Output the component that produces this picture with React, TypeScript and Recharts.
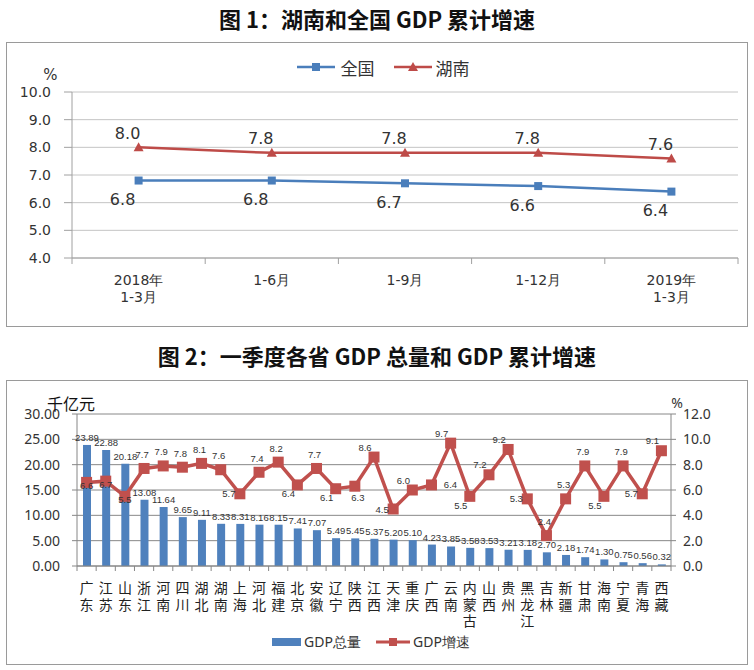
import { LineChart, Line, ComposedChart, Bar, XAxis, YAxis, CartesianGrid, Legend, LabelList } from 'recharts'

// 图1 data
const periods = ['2018年\n1-3月', '1-6月', '1-9月', '1-12月', '2019年\n1-3月']
const nationRate = [6.8, 6.8, 6.7, 6.6, 6.4]
const hunanRate = [8.0, 7.8, 7.8, 7.8, 7.6]
const rateTicks = [4, 5, 6, 7, 8, 9, 10]

// 图2 data
const provinces = ['广东', '江苏', '山东', '浙江', '河南', '四川', '湖北', '湖南', '上海', '河北', '福建', '北京', '安徽', '辽宁', '陕西', '江西', '天津', '重庆', '广西', '云南', '内蒙古', '山西', '贵州', '黑龙江', '吉林', '新疆', '甘肃', '海南', '宁夏', '青海', '西藏']
const gdpTotal = [23.89, 22.88, 20.18, 13.08, 11.64, 9.65, 9.11, 8.33, 8.31, 8.16, 8.15, 7.41, 7.07, 5.49, 5.45, 5.37, 5.2, 5.1, 4.23, 3.85, 3.58, 3.53, 3.21, 3.18, 2.7, 2.18, 1.74, 1.3, 0.75, 0.56, 0.32]
const gdpGrowth = [6.6, 6.7, 5.5, 7.7, 7.9, 7.8, 8.1, 7.6, 5.7, 7.4, 8.2, 6.4, 7.7, 6.1, 6.3, 8.6, 4.5, 6.0, 6.4, 9.7, 5.5, 7.2, 9.2, 5.3, 2.4, 5.3, 7.9, 5.5, 7.9, 5.7, 9.1]
const totalTicks = [0, 5, 10, 15, 20, 25, 30]
const growthTicks = [0, 2, 4, 6, 8, 10, 12]

// where each growth label sits around its marker (as in the original)
const growthLabelSide = ['c', 'c', 'c', 't', 't', 't', 't', 't', 'l', 't', 't', 'bl', 't', 'bl', 'b', 'tl', 'l', 'tl', 'r', 'tl', 'bl', 'tl', 'tl', 'l', 't', 't', 't', 'bl', 't', 'l', 'tl']
const sideOffset: Record<string, [number, number]> = {
  t: [-2, -14], tl: [-9, -10], l: [-11, 0], bl: [-9, 9], b: [3, 11], r: [19, 0], c: [0, 3],
}

const CJK = '"Noto Sans CJK SC", sans-serif'
const NATION = '#4A7EBB'
const HUNAN = '#BE4B48'
const BAR_BLUE = '#4F81BD'
const LINE_RED = '#C0504D'
const TEXT = '#333'

const CHART_W = 740
const CHART_H = 283
const TREND_BAND = (CHART_W - 65 - 9) / periods.length
const PROV_BAND = (CHART_W - 70 - 76) / provinces.length

const titleStyle = (top: number): React.CSSProperties => ({
  position: 'absolute', left: 0, top, width: 754, textAlign: 'center',
  fontFamily: CJK, fontWeight: 'bold', fontSize: 22, lineHeight: '30px', color: '#111',
})

const boxStyle = (top: number): React.CSSProperties => ({
  position: 'absolute', left: 6, top, width: 742, height: 285,
  border: '1px solid #9a9a9a', boxSizing: 'border-box', background: '#fff',
})

function TrendTick(props: any) {
  const { x, y, payload, index } = props
  const half = TREND_BAND / 2
  const lines = String(payload.value).split('\n')
  return (
    <g>
      <line x1={x - half} x2={x - half} y1={y} y2={y + 6} stroke="#a0a0a0" />
      {index === periods.length - 1 && <line x1={x + half} x2={x + half} y1={y} y2={y + 6} stroke="#a0a0a0" />}
      {lines.map((t, i) => (
        <text key={i} x={x} y={y + 22 + i * 17} textAnchor="middle" dominantBaseline="central"
          fontSize={14} fontFamily="DejaVu Sans, sans-serif" fill={TEXT}>{t}</text>
      ))}
    </g>
  )
}

function ProvinceTick(props: any) {
  const { x, y, payload, index } = props
  const half = PROV_BAND / 2
  const chars = Array.from(String(payload.value))
  return (
    <g>
      <line x1={x - half} x2={x - half} y1={y} y2={y + 5} stroke="#868686" />
      {index === provinces.length - 1 && <line x1={x + half} x2={x + half} y1={y} y2={y + 5} stroke="#868686" />}
      {chars.map((c, i) => (
        <text key={i} x={x} y={y + 21 + i * 16.5} textAnchor="middle" dominantBaseline="central"
          fontSize={14} fontFamily={CJK} fill="#222">{c}</text>
      ))}
    </g>
  )
}

const trendDot = (kind: 'square' | 'triangle', color: string, values: number[], dx: number, dy: number) => (p: any) => {
  const { cx, cy, index } = p
  return (
    <g key={`${kind}-${index}`}>
      {kind === 'square'
        ? <rect x={cx - 4} y={cy - 4} width={8} height={8} fill={color} />
        : <polygon points={`${cx},${cy - 5} ${cx + 5},${cy + 4} ${cx - 5},${cy + 4}`} fill={color} />}
      <text x={cx + dx} y={cy + dy} textAnchor="middle" dominantBaseline="central"
        fontSize={16} fontFamily="DejaVu Sans, sans-serif" fill={TEXT}>{values[index].toFixed(1)}</text>
    </g>
  )
}

const growthDot = (p: any) => {
  const { cx, cy, index } = p
  const [dx, dy] = sideOffset[growthLabelSide[index]] || [0, -14]
  return (
    <g key={`g-${index}`}>
      <rect x={cx - 5.5} y={cy - 5.5} width={11} height={11} fill={LINE_RED} />
      <text x={cx + dx} y={cy + dy} textAnchor="middle" dominantBaseline="central"
        fontSize={9.5} fontFamily="Liberation Sans, sans-serif" fill={TEXT}>{gdpGrowth[index].toFixed(1)}</text>
    </g>
  )
}

const trendLegend = () => (
  <div style={{ display: 'flex', justifyContent: 'center', alignItems: 'center', paddingLeft: 12, height: 20, fontFamily: CJK, fontSize: 17, color: TEXT }}>
    <svg width={38} height={12}>
      <line x1={0} y1={6} x2={38} y2={6} stroke={NATION} strokeWidth={2.5} />
      <rect x={15} y={2} width={8} height={8} fill={NATION} />
    </svg>
    <span style={{ marginLeft: 6, marginRight: 19 }}>全国</span>
    <svg width={38} height={12}>
      <line x1={0} y1={6} x2={38} y2={6} stroke={HUNAN} strokeWidth={2.5} />
      <polygon points="19,1 24,10 14,10" fill={HUNAN} />
    </svg>
    <span style={{ marginLeft: 4 }}>湖南</span>
  </div>
)

const provinceLegend = () => (
  <div style={{ display: 'flex', justifyContent: 'center', alignItems: 'center', paddingRight: 12, height: 20, fontFamily: '"Noto Sans", sans-serif', fontSize: 14, color: TEXT }}>
    <svg width={29} height={8}><rect x={0} y={0} width={29} height={8} fill={BAR_BLUE} /></svg>
    <span style={{ marginLeft: 3, marginRight: 15 }}>GDP总量</span>
    <svg width={34} height={10}>
      <line x1={0} y1={5} x2={34} y2={5} stroke={LINE_RED} strokeWidth={3} />
      <rect x={13} y={1} width={8} height={8} fill={LINE_RED} />
    </svg>
    <span style={{ marginLeft: 3 }}>GDP增速</span>
  </div>
)

export default function App() {
  const trendRows = periods.map((period, i) => ({ period, nation: nationRate[i], hunan: hunanRate[i] }))
  const provinceRows = provinces.map((name, i) => ({ name, gdp: gdpTotal[i], growth: gdpGrowth[i] }))

  return (
    <div style={{ position: 'absolute', left: 0, top: 0, width: 754, height: 670, background: '#fff' }}>
      <div style={titleStyle(3)}>图 1：湖南和全国 GDP 累计增速</div>
      <div style={boxStyle(42)}>
        <LineChart width={CHART_W} height={CHART_H} data={trendRows} margin={{ top: 49, right: 9, left: 0, bottom: 0 }}>
          <CartesianGrid vertical={false} stroke="#c4c4c4" />
          <XAxis dataKey="period" scale="band" height={68} interval={0} tickSize={0} tickMargin={0}
            stroke="#a0a0a0" tick={<TrendTick />} />
          <YAxis width={65} domain={[4, 10]} ticks={rateTicks} interval={0} tickSize={8} tickMargin={13}
            stroke="#a0a0a0" tickFormatter={(v: number) => v.toFixed(1)}
            tick={{ fill: TEXT, fontSize: 14, fontFamily: 'DejaVu Sans, sans-serif' }}
            label={{ value: '%', position: 'top', dx: 11, offset: 12, fill: TEXT, fontSize: 15, fontFamily: 'DejaVu Sans, sans-serif' }} />
          <Legend verticalAlign="middle" align="center" layout="horizontal" content={trendLegend}
            wrapperStyle={{ top: 14, left: 0, width: CHART_W }} />
          <Line dataKey="nation" name="全国" stroke={NATION} strokeWidth={2.5} isAnimationActive={false}
            dot={trendDot('square', NATION, nationRate, -16, 19)} activeDot={false} />
          <Line dataKey="hunan" name="湖南" stroke={HUNAN} strokeWidth={2.5} isAnimationActive={false}
            dot={trendDot('triangle', HUNAN, hunanRate, -11, -14)} activeDot={false} />
        </LineChart>
      </div>

      <div style={titleStyle(340)}>图 2：一季度各省 GDP 总量和 GDP 累计增速</div>
      <div style={boxStyle(380)}>
        <ComposedChart width={CHART_W} height={CHART_H} data={provinceRows} margin={{ top: 33, right: 10, left: 0, bottom: 0 }}>
          <CartesianGrid vertical={false} stroke="#888" yAxisId="left" />
          <XAxis dataKey="name" height={98} interval={0} tickSize={0} tickMargin={0}
            stroke="#868686" tick={<ProvinceTick />} />
          <YAxis yAxisId="left" width={70} domain={[0, 30]} ticks={totalTicks} interval={0} tickSize={5} tickMargin={12}
            stroke="#868686" tickFormatter={(v: number) => v.toFixed(2)}
            tick={{ fill: TEXT, fontSize: 14, fontFamily: '"Noto Sans", sans-serif' }}
            label={{ value: '千亿元', position: 'top', dx: 29, offset: 4, fill: '#111', fontSize: 16, fontFamily: CJK }} />
          <YAxis yAxisId="right" orientation="right" width={66} domain={[0, 12]} ticks={growthTicks} interval={0}
            tickSize={5} tickMargin={7} stroke="#868686" tickFormatter={(v: number) => v.toFixed(1)}
            tick={{ fill: TEXT, fontSize: 14, fontFamily: '"Noto Sans", sans-serif' }}
            label={{ value: '%', position: 'top', dx: -27, offset: 6, fill: TEXT, fontSize: 14, fontFamily: '"Noto Sans", sans-serif' }} />
          <Legend verticalAlign="middle" align="center" layout="horizontal" content={provinceLegend}
            wrapperStyle={{ top: 251, left: 0, width: CHART_W }} />
          <Bar yAxisId="left" dataKey="gdp" name="GDP总量" fill={BAR_BLUE} barSize={8} isAnimationActive={false}>
            <LabelList dataKey="gdp" position="top" offset={4} fill={TEXT} fontSize={9.5}
              fontFamily="Liberation Sans, sans-serif" formatter={(v: any) => Number(v).toFixed(2)} />
          </Bar>
          <Line yAxisId="right" dataKey="growth" name="GDP增速" stroke={LINE_RED} strokeWidth={3.5}
            isAnimationActive={false} dot={growthDot} activeDot={false} />
        </ComposedChart>
      </div>
    </div>
  )
}
